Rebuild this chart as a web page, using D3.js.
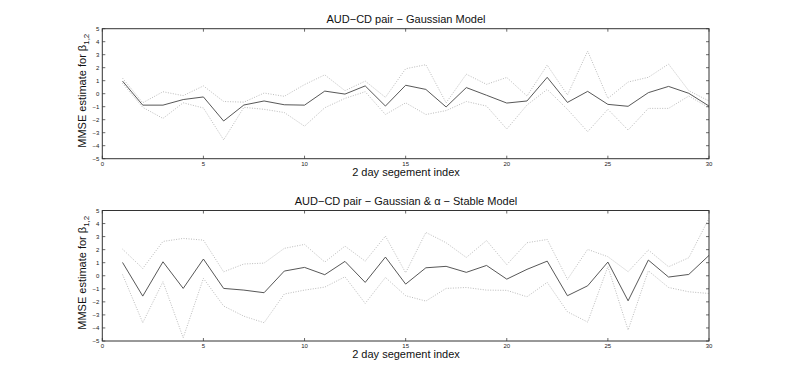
<!DOCTYPE html>
<html>
<head>
<meta charset="utf-8">
<script src="https://cdn.jsdelivr.net/npm/d3@7"></script>
<style>
  body { margin: 0; background: #fff; }
  svg text { font-family: "Liberation Sans", Arial, sans-serif; }
</style>
</head>
<body>
<svg id="chart" width="785" height="384"></svg>
<script>
// segment index 1..30
let segments = [...Array(30).keys()].map(i => i + 1)

// top panel: Gaussian model
var gaussMean  = [0.97,-0.88,-0.88,-0.45,-0.25,-2.1,-0.87,-0.56,-0.85,-0.88,
                  0.2,-0.03,0.6,-0.95,0.65,0.33,-1.02,0.47,-0.12,-0.72,
                  -0.56,1.26,-0.67,0.18,-0.82,-0.97,0.08,0.56,0.03,-0.95]
var gaussUpper = [1.2,-0.7,0.15,-0.15,0.6,-0.6,-0.65,0.05,-0.2,0.7,
                  1.45,0.23,0.97,-0.28,1.92,2.23,-0.7,1.5,0.72,1.25,
                  -0.18,2.2,-0.1,3.28,-0.36,0.9,1.26,2.28,0.23,-0.56]
var gaussLower = [0.8,-1.05,-1.9,-0.7,-1.1,-3.55,-1.05,-1.2,-1.45,-2.5,
                  -1.08,-0.36,0.15,-1.6,-0.7,-1.6,-1.3,-0.6,-0.95,-2.72,
                  -0.87,0.33,-1.2,-2.92,-1.2,-2.8,-1.13,-1.13,-0.18,-1.08]

// bottom panel: Gaussian & alpha-stable model
var stableMean  = [1.02,-1.56,1.07,-0.97,1.28,-0.97,-1.1,-1.3,0.36,0.64,
                   0.08,1.1,-0.51,1.43,-0.64,0.61,0.72,0.26,0.79,-0.26,
                   0.49,1.12,-1.53,-0.77,1.05,-1.92,1.2,-0.1,0.1,1.56]
var stableUpper = [2.04,0.56,2.63,2.86,2.73,0.3,0.9,0.97,2.1,2.4,
                   1.05,2.27,1.12,3.04,0.23,3.32,2.53,1.4,2.7,0.85,
                   2.53,2.78,-0.28,2.02,1.46,0.31,1.97,0.69,1.38,4.4]
var stableLower = [0.1,-3.6,-0.46,-4.75,-0.2,-2.32,-3.1,-3.6,-1.4,-1.1,
                   -0.87,-0.08,-2.12,-0.13,-1.53,-1.94,-0.97,-0.9,-1.1,-1.12,
                   -1.61,-0.51,-2.76,-3.55,0.7,-4.16,0.38,-0.9,-1.23,-1.36]

var xTicks = [0,5,10,15,20,25,30]
var yTicks = [-5,-4,-3,-2,-1,0,1,2,3,4,5]

var panels = [
  {title: "AUD\u2212CD pair \u2212 Gaussian Model", top: 28.7, bottom: 158.7,
   mean: gaussMean, upper: gaussUpper, lower: gaussLower},
  {title: "AUD\u2212CD pair \u2212 Gaussian & \u03b1 \u2212 Stable Model", top: 210.5, bottom: 341,
   mean: stableMean, upper: stableUpper, lower: stableLower}
]

var svg = d3.select("#chart")
var left = 102.3, right = 709

panels.forEach(function(p) {
  var x = d3.scaleLinear().domain([0, 30]).range([left, right])
  var y = d3.scaleLinear().domain([-5, 5]).range([p.bottom, p.top])
  var g = svg.append("g")

  // ticks, inward on all four sides
  var tk = g.append("g").attr("stroke", "#444").attr("stroke-width", 0.8)
  xTicks.forEach(function(t) {
    tk.append("line").attr("x1", x(t)).attr("x2", x(t)).attr("y1", p.bottom).attr("y2", p.bottom - 3)
    tk.append("line").attr("x1", x(t)).attr("x2", x(t)).attr("y1", p.top).attr("y2", p.top + 3)
  })
  yTicks.forEach(function(t) {
    tk.append("line").attr("x1", left).attr("x2", left + 3).attr("y1", y(t)).attr("y2", y(t))
    tk.append("line").attr("x1", right).attr("x2", right - 3).attr("y1", y(t)).attr("y2", y(t))
  })

  g.selectAll(".xl").data(xTicks).enter().append("text")
    .attr("x", d => x(d)).attr("y", p.bottom + 7)
    .attr("text-anchor", "middle").attr("font-size", 6).attr("fill", "#222")
    .text(d => d)
  g.selectAll(".yl").data(yTicks).enter().append("text")
    .attr("x", left - 3).attr("y", d => y(d) + 2)
    .attr("text-anchor", "end").attr("font-size", 6).attr("fill", "#222")
    .text(d => d < 0 ? "\u2212" + Math.abs(d) : d)

  var line = d3.line().x((d, i) => x(segments[i])).y(d => y(d))

  g.append("path").datum(p.upper).attr("d", line)
    .attr("fill", "none").attr("stroke", "#aaa").attr("stroke-width", 0.8).attr("stroke-dasharray", "1,1.5")
  g.append("path").datum(p.lower).attr("d", line)
    .attr("fill", "none").attr("stroke", "#aaa").attr("stroke-width", 0.8).attr("stroke-dasharray", "1,1.5")
  g.append("path").datum(p.mean).attr("d", line)
    .attr("fill", "none").attr("stroke", "#444").attr("stroke-width", 0.9)

  // box
  g.append("rect").attr("x", left).attr("y", p.top)
    .attr("width", right - left).attr("height", p.bottom - p.top)
    .attr("fill", "none").attr("stroke", "#333").attr("stroke-width", 1)

  g.append("text").attr("x", 406).attr("y", p.top - 5.5)
    .attr("text-anchor", "middle").attr("font-size", 11).attr("fill", "#111")
    .text(p.title)

  g.append("text").attr("x", 406).attr("y", p.bottom + 17)
    .attr("text-anchor", "middle").attr("font-size", 11).attr("fill", "#111")
    .text("2 day segement index")

  var cy = (p.top + p.bottom) / 2 - 3
  var yl = g.append("text").attr("transform", "translate(86," + cy + ") rotate(-90)")
    .attr("text-anchor", "middle").attr("font-size", 11).attr("fill", "#111")
  yl.append("tspan").text("MMSE estimate for \u03b2")
  yl.append("tspan").attr("font-size", 8).attr("dy", 3).text("1,2")
})
</script>
</body>
</html>
